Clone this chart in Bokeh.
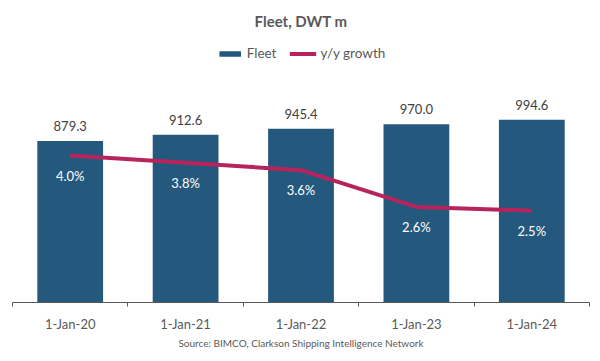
from bokeh.plotting import figure
from bokeh.models import (Range1d, FixedTicker, Legend, LegendItem, LabelSet,
                          Label, ColumnDataSource)
from bokeh.core.properties import value
from bokeh.embed import file_html
from bokeh.resources import INLINE

# ---- data ----
categories = ["1-Jan-20", "1-Jan-21", "1-Jan-22", "1-Jan-23", "1-Jan-24"]
fleet = [879.3, 912.6, 945.4, 970.0, 994.6]
growth = [4.0, 3.8, 3.6, 2.6, 2.5]

title_text = "Fleet, DWT m"
source_text = "Source: BIMCO, Clarkson Shipping Intelligence Network"

FONT = "Lato"
BAR_COLOR = "#25587D"
LINE_COLOR = "#B7245C"
GREY = "#595959"

xs = [i + 0.5 for i in range(len(categories))]
src = ColumnDataSource(dict(
    x=xs, fleet=fleet, growth=growth,
    fleet_lbl=[f"{v:.1f}" for v in fleet],
    growth_lbl=[f"{v:.1f}%" for v in growth],
))

p = figure(width=592, height=353, x_range=Range1d(0, len(categories)),
           y_range=Range1d(0, 1600), output_backend="svg",
           toolbar_location=None, y_axis_location=None,
           min_border_left=12, min_border_right=3, min_border_top=8,
           min_border_bottom=51)
p.extra_y_ranges = {"pct": Range1d(0, 8)}
p.grid.visible = False
p.outline_line_color = None
p.background_fill_color = "white"
p.border_fill_color = "white"

bars = p.vbar(x="x", top="fleet", width=0.57, source=src,
              fill_color=BAR_COLOR, line_color=None)
line = p.line(x="x", y="growth", source=src, y_range_name="pct",
              line_color=LINE_COLOR, line_width=4)

p.add_layout(LabelSet(x="x", y="fleet", text="fleet_lbl", source=src,
                      text_align="center", text_baseline="middle",
                      y_offset=15, text_font=value(FONT),
                      text_font_size=value("13px"), text_color="#404040"))
p.add_layout(LabelSet(x="x", y="growth", text="growth_lbl", source=src,
                      y_range_name="pct", text_align="center",
                      text_baseline="middle", y_offset=-20,
                      text_font=value(FONT), text_font_size=value("13px"),
                      text_color="white"))

# x axis: labels at centres, ticks at category boundaries
ax = p.xaxis[0]
ax.ticker = FixedTicker(ticks=xs, minor_ticks=list(range(len(categories) + 1)))
ax.major_label_overrides = {x: c for x, c in zip(xs, categories)}
ax.major_tick_line_color = None
ax.major_tick_out = 0
ax.major_tick_in = 0
ax.minor_tick_line_color = GREY
ax.minor_tick_out = 4
ax.minor_tick_in = 0
ax.axis_line_color = GREY
ax.major_label_text_font = FONT
ax.major_label_text_font_size = "13px"
ax.major_label_text_color = GREY
ax.major_label_standoff = 9
ax.axis_label = source_text
ax.axis_label_text_font = FONT
ax.axis_label_text_font_size = "10px"
ax.axis_label_text_font_style = "normal"
ax.axis_label_text_color = GREY
ax.axis_label_standoff = 2

# title
p.add_layout(Label(x=288.5, y=281.5, x_units="screen", y_units="screen",
                   text=title_text, text_align="center",
                   text_baseline="middle", text_font=FONT,
                   text_font_size="15px", text_font_style="bold",
                   text_color=GREY))

legend = Legend(items=[LegendItem(label="Fleet", renderers=[bars]),
                       LegendItem(label="y/y growth", renderers=[line])],
                orientation="horizontal", location="top_center",
                margin=37, padding=0, spacing=13, label_standoff=4,
                glyph_width=27, glyph_height=7,
                label_text_font=FONT, label_text_font_size="13.5px",
                label_text_color=GREY, border_line_color=None,
                background_fill_alpha=0)
p.add_layout(legend)

open("out.html", "w").write(file_html(p, INLINE))
